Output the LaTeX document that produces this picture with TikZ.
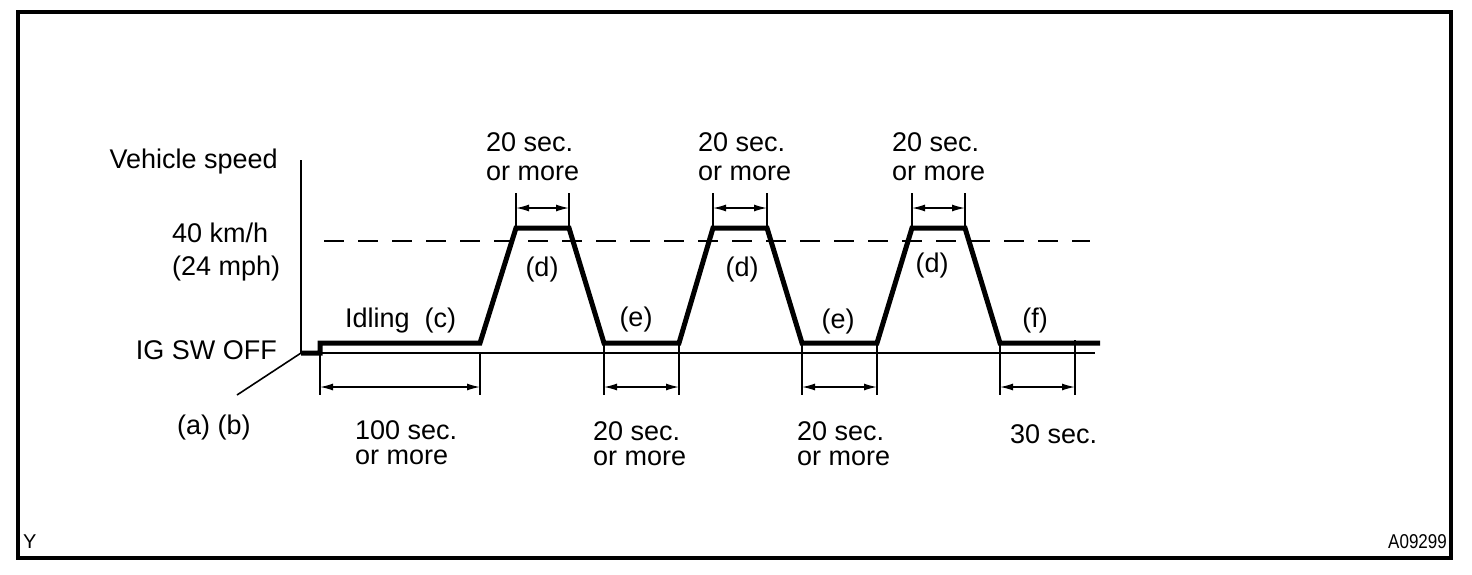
\documentclass[tikz,border=0pt]{standalone}
\usepackage{fontspec}
\setmainfont{Liberation Sans}
\usetikzlibrary{arrows.meta}
\begin{document}
\begin{tikzpicture}[x=1pt,y=-1pt,
  lbl/.style={font=\fontsize{27}{25}\selectfont, inner sep=0pt, align=left},
  toplbl/.style={font=\fontsize{27}{29}\selectfont, inner sep=0pt, align=left},
  small/.style={font=\fontsize{20}{22}\selectfont, inner sep=0pt},
  frameline/.style={line width=4pt},
  axisline/.style={line width=1.6pt},
  profile/.style={line width=5pt},
  speedref/.style={line width=2.2pt, dash pattern=on 20pt off 14pt},
  extline/.style={line width=1.2pt},
  dimline/.style={line width=1.4pt, {Latex[length=13pt,width=7pt]}-{Latex[length=13pt,width=7pt]}}
]
\useasboundingbox (0,0) rectangle (1472,574);
\draw[frameline] (18,12) rectangle (1451,558);

% axis and reference lines
\coordinate (axtop) at (301,160);
\coordinate (o) at (301,353);
\coordinate (baseend) at (1095,353);
\coordinate (lead) at (237,395);
\draw[axisline] (axtop) -- (o);
\draw[axisline] (o) -- (baseend);
\draw[axisline] (o) -- (lead);
\coordinate (ds) at (324,241);
\coordinate (de) at (1090,241);
\draw[speedref] (ds) -- (de);

% speed profile
\coordinate (p1) at (320,353);
\coordinate (p2) at (320,343);
\coordinate (p3) at (480,343);
\coordinate (p4) at (516,228);
\coordinate (p5) at (569,228);
\coordinate (p6) at (604,343);
\coordinate (p7) at (679,343);
\coordinate (p8) at (713,228);
\coordinate (p9) at (767,228);
\coordinate (p10) at (802,343);
\coordinate (p11) at (877,343);
\coordinate (p12) at (912,228);
\coordinate (p13) at (965,228);
\coordinate (p14) at (1000,343);
\coordinate (p15) at (1100,343);
\draw[profile] (o) -- (p1) -- (p2) -- (p3) -- (p4) -- (p5) -- (p6) -- (p7) -- (p8) -- (p9) -- (p10) -- (p11) -- (p12) -- (p13) -- (p14) -- (p15);

% extension lines
\foreach \n/\x/\ya/\yb in {a/320/353/395, b/480/353/395, c/604/343/395, d/679/343/395, e/802/343/395, f/877/343/395, g/1000/343/395, h/1075/340/395,
  i/516/193/228, j/569/193/228, k/713/193/228, l/767/193/228, m/912/193/228, n/965/193/228}{
  \coordinate (x\n1) at (\x,\ya);
  \coordinate (x\n2) at (\x,\yb);
  \draw[extline] (x\n1) -- (x\n2);
}
% dimension arrows
\coordinate (da1) at (320,387); \coordinate (da2) at (480,387);
\coordinate (dc1) at (604,387); \coordinate (dc2) at (679,387);
\coordinate (de1) at (802,387); \coordinate (de2) at (877,387);
\coordinate (dg1) at (1000,387); \coordinate (dg2) at (1075,387);
\coordinate (di1) at (516,208); \coordinate (di2) at (569,208);
\coordinate (dk1) at (713,208); \coordinate (dk2) at (767,208);
\coordinate (dm1) at (912,208); \coordinate (dm2) at (965,208);
\draw[dimline] (da1) -- (da2);
\draw[dimline] (dc1) -- (dc2);
\draw[dimline] (de1) -- (de2);
\draw[dimline] (dg1) -- (dg2);
\draw[dimline] (di1) -- (di2);
\draw[dimline] (dk1) -- (dk2);
\draw[dimline] (dm1) -- (dm2);

% labels
\node[lbl, anchor=base east] (vs) at (278,168) {Vehicle speed};
\node[lbl, anchor=base west] (kmh) at (172,242) {40 km/h};
\node[lbl, anchor=base west] (mph) at (172,275) {(24 mph)};
\node[lbl, anchor=base east] (ig) at (277,359) {IG SW OFF};
\node[lbl, anchor=base west] (ab) at (177,434) {(a) (b)};
\node[lbl, anchor=base west] (idl) at (345,327) {Idling~~(c)};
\node[lbl, anchor=base] (d1) at (542,276) {(d)};
\node[lbl, anchor=base] (d2) at (742,276) {(d)};
\node[lbl, anchor=base] (d3) at (932,272) {(d)};
\node[lbl, anchor=base] (e1) at (636,326) {(e)};
\node[lbl, anchor=base] (e2) at (838,328) {(e)};
\node[lbl, anchor=base] (f1) at (1035,327) {(f)};
\node[toplbl, anchor=base west] (t1) at (486,180) {20 sec.\\or more};
\node[toplbl, anchor=base west] (t2) at (698,180) {20 sec.\\or more};
\node[toplbl, anchor=base west] (t3) at (892,180) {20 sec.\\or more};
\node[lbl, anchor=base west] (b1) at (355,464) {100 sec.\\or more};
\node[lbl, anchor=base west] (b2) at (593,465) {20 sec.\\or more};
\node[lbl, anchor=base west] (b3) at (797,465) {20 sec.\\or more};
\node[lbl, anchor=base west] (b4) at (1010,443) {30 sec.};
\node[small, anchor=base west] (yy) at (23,548) {Y};
\node[small, anchor=base east, xscale=0.85] (code) at (1447,548) {A09299};
\end{tikzpicture}
\end{document}
